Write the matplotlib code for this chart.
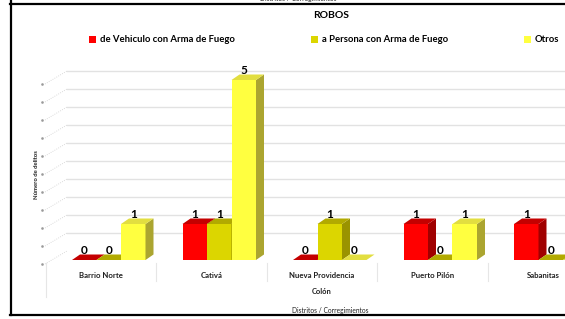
import matplotlib
matplotlib.use("Agg")
import matplotlib.pyplot as plt
from matplotlib.patches import Polygon, Patch
from matplotlib.lines import Line2D

# data
categories = ["Barrio Norte", "Cativá", "Nueva Providencia", "Puerto Pilón", "Sabanitas"]
group_label = "Colón"
series_names = ["de Vehiculo con Arma de Fuego", "a Persona con Arma de Fuego", "Otros"]
vehiculo = [0, 1, 0, 1, 1]
persona = [0, 1, 1, 0, 0]
otros = [1, 5, 0, 1, 0]
grid_levels = [0.5, 1, 1.5, 2, 2.5, 3, 3.5, 4, 4.5, 5]

# front / top / side colours for the fake 3D bars
colors = [
    ("#ff0000", "#c40000", "#a00000"),
    ("#dcd600", "#b2aa00", "#9a9300"),
    ("#ffff40", "#e2de40", "#aba530"),
]

W, H = 565, 319
fig = plt.figure(figsize=(W / 100, H / 100), dpi=100)
plt.rcParams["font.family"] = ["Lato", "DejaVu Sans"]


def fx(px):
    return px / W


def fy(py):
    return 1 - py / H


# axes in pixel terms: 1 category = 110.5 px, 1 unit of value = 36 px
ax_left, ax_right, ax_top, ax_bottom = 30, 640, 60, 270
ax = fig.add_axes([fx(ax_left), fy(ax_bottom), (ax_right - ax_left) / W, (ax_bottom - ax_top) / H])
PX_X = 110.5
PX_Y = 36.0
X0 = 108.75   # pixel x of category 0 (bar group centre)
Y0 = 260.0    # pixel y of value 0 (front of floor)
ax.set_xlim((ax_left - X0) / PX_X, (ax_right - X0) / PX_X)
ax.set_ylim((Y0 - ax_bottom) / PX_Y, (Y0 - ax_top) / PX_Y)
ax.axis("off")

dx = 8 / PX_X
dy = 5.5 / PX_Y
bar_w = 24.5 / PX_X

# back wall grid lines and left wall
wall_x0 = (45 - X0) / PX_X
wall_x1 = (67 - X0) / PX_X
back_shift = 9 / PX_Y
for g in grid_levels:
    ax.plot([wall_x1, 6], [g + back_shift, g + back_shift], color="#e2e2e2", lw=1.0, zorder=1)
for g in [0] + grid_levels:
    yf = g - 4 / PX_Y
    ax.plot([wall_x0, wall_x1], [yf, g + back_shift], color="#cfcfcf", lw=0.6, ls=":", zorder=1)
    ax.plot([(42 - X0) / PX_X], [yf], marker="s", ms=0.8, color="#9a9a9a", zorder=1)

# bars
series = [vehiculo, persona, otros]
for i in range(len(categories)):
    left0 = i - 1.5 * bar_w
    for j, values in enumerate(series):
        v = values[i]
        x0 = left0 + j * bar_w
        x1 = x0 + bar_w
        front, top, side = colors[j]
        if v > 0:
            ax.add_patch(Polygon([(x0, 0), (x1, 0), (x1, v), (x0, v)], closed=True,
                                 facecolor=front, edgecolor="none", zorder=3))
            ax.add_patch(Polygon([(x1, 0), (x1 + dx, dy), (x1 + dx, v + dy), (x1, v)], closed=True,
                                 facecolor=side, edgecolor="none", zorder=3))
        ax.add_patch(Polygon([(x0, v), (x1, v), (x1 + dx, v + dy), (x0 + dx, v + dy)], closed=True,
                             facecolor=top, edgecolor="none", zorder=3))
        # the last label of the last group falls outside the picture in the reference
        if (x0 + x1) / 2 < ax.get_xlim()[0] + (565 - ax_left - 6) / PX_X:
            ax.text((x0 + x1) / 2, v + 3.5 / PX_Y, str(v), ha="center", va="bottom",
                    fontsize=8.5, fontweight="bold", color="black", zorder=4)

# category axis labels
label_shift = (101 - X0) / PX_X
for i, name in enumerate(categories):
    ax.text(i + label_shift, (Y0 - 276) / PX_Y, name, ha="center", va="center",
            fontsize=5.6, fontweight="bold", color="#202020", clip_on=False)
for k in range(len(categories) + 1):
    xb = k - 0.5 + label_shift
    y_low = 297 if k == 0 else 281
    ax.plot([xb, xb], [(Y0 - 263) / PX_Y, (Y0 - y_low) / PX_Y], color="#e6e6e6",
            lw=0.8, clip_on=False, zorder=1)
ax.text(2 + label_shift, (Y0 - 292) / PX_Y, group_label, ha="center", va="center",
        fontsize=5.4, fontweight="bold", color="#202020", clip_on=False)

# titles
fig.text(fx(331), fy(15), "ROBOS", ha="center", va="center", fontsize=7.5, fontweight="bold")
fig.text(fx(330), fy(310), "Distritos / Corregimientos", ha="center", va="center", fontsize=4.8,
         color="#202020")
fig.text(fx(298), fy(-1.5), "Distritos / Corregimientos", ha="center", va="center", fontsize=4.8,
         color="#202020")
fig.text(fx(37), fy(175), "Número de delitos", ha="center", va="center", rotation=90,
         fontsize=4.2, fontweight="bold", color="#202020")

# legend
handles = [Patch(facecolor=c[0], edgecolor="none") for c in colors]
fig.legend(handles, series_names, loc="center left", bbox_to_anchor=(fx(89), fy(40)),
           ncol=3, frameon=False, borderpad=0, borderaxespad=0,
           prop={"size": 6.8, "weight": "bold"}, handlelength=0.75, handleheight=0.75,
           handletextpad=0.45, columnspacing=8.0)

# chart frame
fig.add_artist(Line2D([fx(10), fx(W + 5)], [fy(3.5), fy(3.5)], color="black", lw=1.6))
fig.add_artist(Line2D([fx(10.5), fx(10.5)], [fy(-2), fy(314.5)], color="black", lw=1.6))
fig.add_artist(Line2D([fx(10), fx(W + 5)], [fy(314.5), fy(314.5)], color="black", lw=1.6))

fig.savefig("out.png", dpi=100)
